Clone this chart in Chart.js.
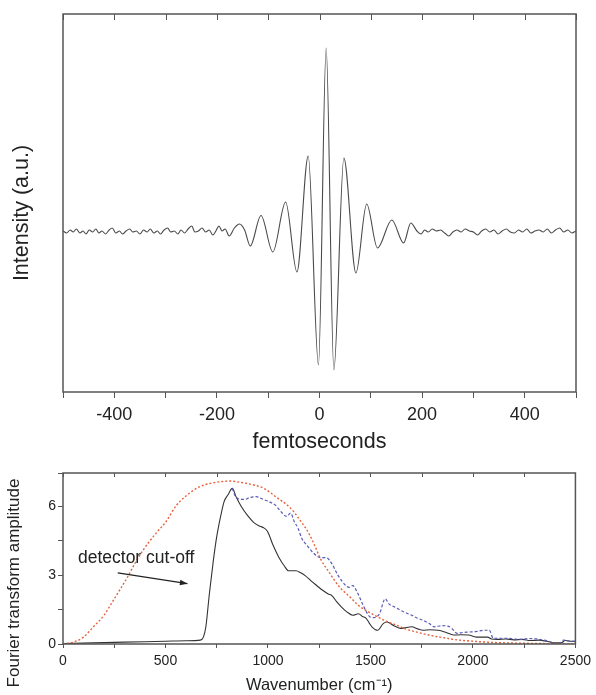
<!DOCTYPE html>
<html>
<head>
<meta charset="utf-8">
<script src="https://cdn.jsdelivr.net/npm/chart.js@4.4.1/dist/chart.umd.min.js"></script>
<style>
  body { margin: 0; background: #fff; width: 596px; height: 695px; overflow: hidden; position: relative; }
  canvas { position: absolute; left: 0; }
  #top { top: 0; }
  #bot { top: 455px; }
</style>
</head>
<body>
<canvas id="top" width="596" height="455"></canvas>
<canvas id="bot" width="596" height="240"></canvas>
<script>
// interferogram (top panel)
const fsTime = [-500,-493,-486,-480,-474,-467,-461,-455,-449,-442,-436,-430,-424,-417,-410,-404,-397,-390,-384,-377,
  -370,-364,-357,-350,-343,-336,-330,-323,-316,-310,-303,-296,-290,-283,-276,-270,-263,-256,-249,-243,
  -236,-229,-222,-215,-208,-202,-196,-190,-184,-176,-166,-156,-146,-135,-114,-91,-66,-44,-22,-2,
  13,28,47.5,71,92,113,141,164,178,190,198,205,212,220,228,236,244,252,260,268,
  276,284,292,300,308,316,324,332,340,348,356,364,372,380,388,396,404,412,420,428,
  436,444,452,460,468,476,484,492,500];
const fsIntensity = [1,-1,2,0,3,-1,1,-2,2,0,3,-1,1,-2,2,4,-1,1,-2,1,
  3,0,1,-2,2,0,3,-1,1,-2,2,4,0,1,-2,2,-1,3,6,0,
  1,4,0,2,-3,1,6,1,3,-4,4,8,2,-14,16.5,-20,30,-40,76,-133,
  184,-138,74,-41,28,-16,12,-11,9,1,-2,2,0,3,1,2,-1,-4,0,2,
  0,3,1,0,-3,1,3,0,2,-2,1,3,0,-1,2,0,3,-1,1,2,
  0,3,-1,2,4,0,2,-1,1];

// Fourier transform amplitude (bottom panel)
const measWn = [0,100,200,300,400,500,600,670,685,697,714,733,749,770,786,805,826,845,869,900,
  930,961,980,998,1025,1054,1080,1100,1137,1160,1183,1210,1239,1265,1294,1313,1335,1359,1385,1414,
  1442,1460,1479,1495,1507,1535,1562,1581,1610,1646,1675,1701,1730,1757,1790,1831,1870,1905,1940,1979,
  2016,2071,2090,2120,2160,2200,2240,2280,2320,2360,2400,2430,2450,2480,2500];
const measAmp = [0.02,0.04,0.06,0.08,0.1,0.12,0.14,0.17,0.3,0.75,2.18,3.6,4.62,5.6,6.2,6.5,6.78,6.4,6.0,5.6,
  5.3,5.13,5.06,4.9,4.3,3.76,3.4,3.19,3.19,3.1,2.97,2.75,2.54,2.35,2.18,2.1,1.85,1.61,1.4,1.25,
  1.32,1.2,1.12,0.9,0.75,0.6,0.89,0.96,0.82,0.68,0.72,0.75,0.66,0.6,0.62,0.6,0.5,0.39,0.4,0.39,
  0.3,0.3,0.22,0.2,0.22,0.18,0.2,0.15,0.17,0.12,0.05,0.05,0.15,0.12,0.1];

const corrWn = [826,840,851,870,888,910,943,965,980,1005,1035,1060,1091,1110,1130,1146,1165,1190,1220,1257,
  1285,1313,1335,1359,1396,1414,1433,1461,1480,1498,1516,1544,1572,1590,1620,1646,1675,1701,1730,1757,
  1785,1812,1849,1886,1905,1923,1950,1979,2020,2053,2080,2099,2130,2163,2200,2237,2270,2311,2340,2367,
  2390,2404,2425,2441,2470,2500];
const corrAmp = [6.78,6.45,6.35,6.3,6.3,6.38,6.42,6.35,6.29,6.2,6.06,5.8,5.56,5.7,5.3,5.06,4.6,4.3,3.98,3.76,
  3.76,3.48,3.1,2.76,2.47,2.54,2.3,1.75,1.4,1.18,1.15,1.32,1.97,1.75,1.6,1.47,1.35,1.25,1.12,1.03,
  0.9,0.75,0.8,0.75,0.6,0.46,0.5,0.52,0.55,0.6,0.6,0.25,0.25,0.25,0.22,0.2,0.24,0.22,0.18,0.13,
  0.05,0,0.05,0.17,0.12,0.13];

const fitWn = [0,50,100,148,200,240,280,314,350,388,420,462,500,555,600,666,720,780,814,860,
  920,980,1040,1110,1160,1202,1230,1257,1300,1350,1400,1442,1490,1535,1580,1627,1670,1720,1765,1812,
  1860,1905,2000,2090,2200,2274,2400,2500];
const fitAmp = [0,0.08,0.3,0.75,1.25,1.82,2.4,2.9,3.5,4.05,4.45,4.91,5.3,6.06,6.45,6.85,7.0,7.08,7.1,7.05,
  6.95,6.78,6.4,5.92,5.35,4.78,4.25,3.7,3.1,2.47,2.05,1.68,1.4,1.18,0.98,0.82,0.66,0.53,0.43,0.34,
  0.27,0.2,0.12,0.07,0.04,0.03,0.01,0];

const noteText = 'detector cut-off';

function pts(xs, ys) {
  return xs.map((x, i) => ({x: x, y: ys[i]}));
}

const FONT = "'Liberation Sans', Arial, sans-serif";
Chart.defaults.font.family = FONT;
Chart.defaults.color = '#333';

// box round the plot area, inward ticks on top edge, rotated y title
const framePlugin = {
  id: 'frame',
  afterDatasetsDraw(chart, args, opts) {
    const {ctx, chartArea: a} = chart;
    const xs = chart.scales.x;
    ctx.save();
    ctx.strokeStyle = opts.color;
    ctx.lineWidth = opts.width;
    ctx.strokeRect(a.left, a.top, a.right - a.left, a.bottom - a.top);
    ctx.lineWidth = 1;
    ctx.beginPath();
    xs.ticks.forEach(t => {
      const px = Math.round(xs.getPixelForValue(t.value)) + 0.5;
      ctx.moveTo(px, a.top);
      ctx.lineTo(px, a.top + opts.tick);
    });
    ctx.stroke();
    // y axis title
    ctx.translate(opts.titleX, opts.titleY);
    ctx.rotate(-Math.PI / 2);
    ctx.fillStyle = '#222';
    ctx.font = opts.titleSize + 'px ' + FONT;
    ctx.textAlign = 'center';
    ctx.textBaseline = 'middle';
    ctx.fillText(opts.title, 0, 0);
    ctx.restore();
  }
};

const notePlugin = {
  id: 'note',
  afterDatasetsDraw(chart) {
    const {ctx, scales: {x, y}} = chart;
    ctx.save();
    ctx.fillStyle = '#222';
    ctx.font = '17.5px ' + FONT;
    ctx.textBaseline = 'middle';
    ctx.fillText(noteText, x.getPixelForValue(73), y.getPixelForValue(3.75));
    const x0 = x.getPixelForValue(267), y0 = y.getPixelForValue(3.1);
    const x1 = x.getPixelForValue(607), y1 = y.getPixelForValue(2.63);
    ctx.strokeStyle = '#222';
    ctx.lineWidth = 1.2;
    ctx.beginPath();
    ctx.moveTo(x0, y0);
    ctx.lineTo(x1, y1);
    ctx.stroke();
    const ang = Math.atan2(y1 - y0, x1 - x0);
    ctx.beginPath();
    ctx.moveTo(x1, y1);
    ctx.lineTo(x1 - 8 * Math.cos(ang - 0.35), y1 - 8 * Math.sin(ang - 0.35));
    ctx.lineTo(x1 - 8 * Math.cos(ang + 0.35), y1 - 8 * Math.sin(ang + 0.35));
    ctx.closePath();
    ctx.fill();
    ctx.restore();
  }
};

new Chart(document.getElementById('top'), {
  type: 'line',
  data: {
    datasets: [{
      data: pts(fsTime, fsIntensity),
      borderColor: '#4a4a4a',
      borderWidth: 1.1,
      pointRadius: 0,
      cubicInterpolationMode: 'monotone'
    }]
  },
  options: {
    responsive: false,
    animation: false,
    devicePixelRatio: 1,
    layout: {padding: {left: 0, right: 20, top: 14, bottom: 0}},
    plugins: {
      legend: {display: false},
      tooltip: {enabled: false},
      frame: {color: '#555', width: 1.5, tick: 6, title: 'Intensity (a.u.)', titleX: 22, titleY: 213, titleSize: 21.5}
    },
    scales: {
      x: {
        type: 'linear', min: -500, max: 500,
        ticks: {
          stepSize: 100, autoSkip: false, maxRotation: 0, padding: 6,
          font: {size: 18}, color: '#222',
          callback: v => (v % 200 === 0 && Math.abs(v) < 500) ? String(v) : ''
        },
        grid: {display: true, drawOnChartArea: false, drawTicks: true, tickLength: 6, color: '#555'},
        border: {display: false},
        title: {display: true, text: 'femtoseconds', font: {size: 21.5}, color: '#222', padding: 0},
        afterFit: s => { s.height = 63; }
      },
      y: {
        type: 'linear', min: -160, max: 218,
        display: false,
        afterFit: s => { s.width = 63; }
      }
    }
  },
  plugins: [framePlugin]
});

new Chart(document.getElementById('bot'), {
  type: 'line',
  data: {
    datasets: [
      {
        data: pts(fitWn, fitAmp),
        borderColor: '#e8613c',
        borderWidth: 1.4,
        borderDash: [2, 2],
        pointRadius: 0,
        cubicInterpolationMode: 'monotone'
      },
      {
        data: pts(corrWn, corrAmp),
        borderColor: '#5a5ab4',
        borderWidth: 1.2,
        borderDash: [3, 2],
        pointRadius: 0,
        cubicInterpolationMode: 'monotone'
      },
      {
        data: pts(measWn, measAmp),
        borderColor: '#333',
        borderWidth: 1.1,
        pointRadius: 0,
        cubicInterpolationMode: 'monotone'
      }
    ]
  },
  options: {
    responsive: false,
    animation: false,
    devicePixelRatio: 1,
    layout: {padding: {left: 0, right: 18, top: 18, bottom: 0}},
    plugins: {
      legend: {display: false},
      tooltip: {enabled: false},
      frame: {color: '#555', width: 1.5, tick: 4, title: 'Fourier transform amplitude', titleX: 14, titleY: 128, titleSize: 17}
    },
    scales: {
      x: {
        type: 'linear', min: 0, max: 2500,
        ticks: {
          stepSize: 250, autoSkip: false, maxRotation: 0, padding: 5,
          font: {size: 14}, color: '#222',
          callback: v => (v % 500 === 0) ? String(v) : ''
        },
        grid: {display: true, drawOnChartArea: false, drawTicks: true, tickLength: 4, color: '#555'},
        border: {display: false},
        title: {display: true, text: 'Wavenumber (cm\u207B\u00B9)', font: {size: 16.5}, color: '#222', padding: 0},
        afterFit: s => { s.height = 51; }
      },
      y: {
        type: 'linear', min: 0, max: 7.45,
        ticks: {
          stepSize: 1.5, autoSkip: false, padding: 2,
          font: {size: 14}, color: '#222',
          callback: v => (Math.abs(v % 3) < 1e-6) ? String(v) : ''
        },
        grid: {display: true, drawOnChartArea: false, drawTicks: true, tickLength: 5, color: '#555'},
        border: {display: false},
        afterFit: s => { s.width = 63; }
      }
    }
  },
  plugins: [framePlugin, notePlugin]
});
</script>
</body>
</html>
